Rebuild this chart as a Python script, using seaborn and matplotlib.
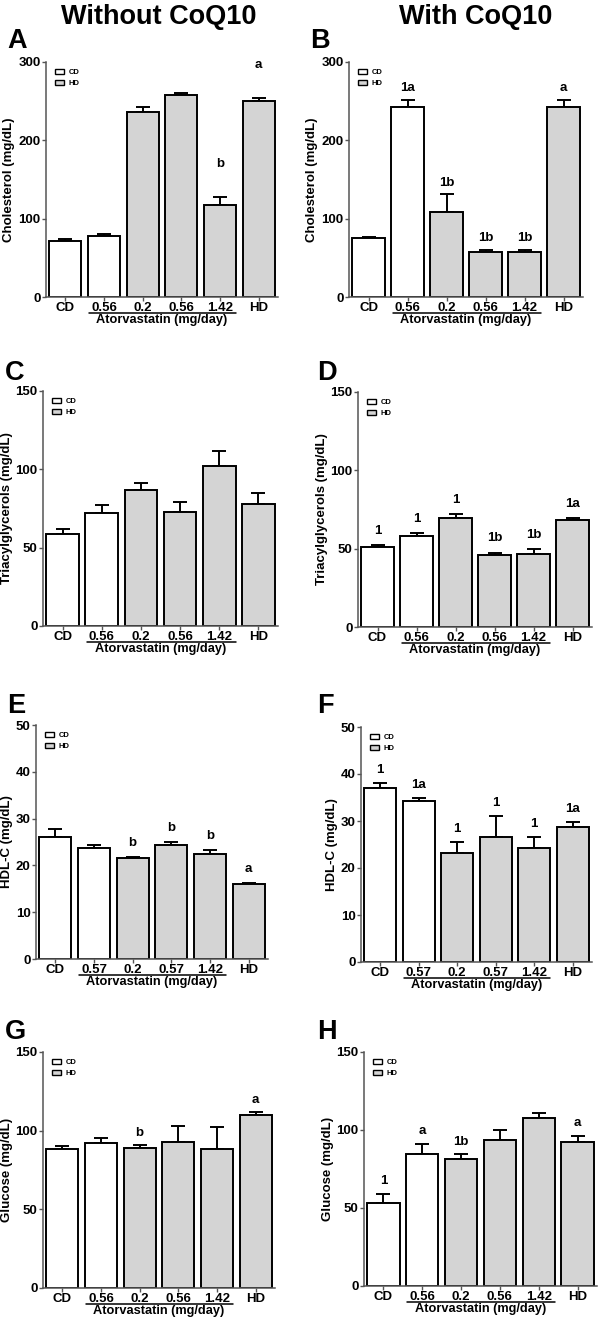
import numpy as np
import pandas as pd
import matplotlib
matplotlib.use("Agg")
import matplotlib.pyplot as plt
import matplotlib.transforms as mtransforms
from matplotlib.patches import Patch
import seaborn as sns

# x categories
groups_mg = ["CD", "0.56", "0.2", "0.56", "1.42", "HD"]
groups_hdl = ["CD", "0.57", "0.2", "0.57", "1.42", "HD"]
diet = ["CD", "CD", "HD", "HD", "HD", "HD"]

# Cholesterol
chol_wo = [72, 77.5, 236, 258, 118, 250]
chol_wo_err = [1.5, 3.5, 6, 3, 10, 4]
chol_wo_lbl = ["", "", "", "", "b", "a"]
chol_w = [75, 242, 109, 57, 57, 242]
chol_w_err = [1, 10, 22, 3.5, 3.5, 10]
chol_w_lbl = ["", "1a", "1b", "1b", "1b", "a"]

# Triacylglycerols
tag_wo = [59, 72, 86.5, 73, 102, 78]
tag_wo_err = [3, 5, 5, 6, 9.5, 7]
tag_wo_lbl = ["", "", "", "", "", ""]
tag_w = [51, 58, 69.5, 46, 46.5, 68.5]
tag_w_err = [1.5, 2, 2.5, 1.5, 3, 1.3]
tag_w_lbl = ["1", "1", "1", "1b", "1b", "1a"]

# HDL-C
hdl_wo = [26, 23.8, 21.5, 24.3, 22.4, 16.1]
hdl_wo_err = [1.7, 0.6, 0.3, 0.7, 0.9, 0.2]
hdl_wo_lbl = ["", "", "b", "b", "b", "a"]
hdl_w = [37, 34.2, 23.2, 26.7, 24.2, 28.7]
hdl_w_err = [1, 0.8, 2.4, 4.4, 2.5, 1.1]
hdl_w_lbl = ["1", "1a", "1", "1", "1", "1a"]

# Glucose
glu_wo = [88.5, 92, 88.7, 93, 88.3, 110]
glu_wo_err = [2, 3.5, 2.5, 10, 14, 2]
glu_wo_lbl = ["", "", "b", "", "", "a"]
glu_w = [53.5, 84.5, 81.5, 93.5, 107.5, 92.5]
glu_w_err = [5.3, 6.6, 2.8, 6.6, 3.7, 3.9]
glu_w_lbl = ["1", "a", "1b", "", "", "a"]

sns.set_style("ticks")
plt.rcParams["font.family"] = ["Liberation Sans", "DejaVu Sans"]
plt.rcParams["font.weight"] = "bold"
plt.rcParams["axes.labelweight"] = "bold"
plt.rcParams["text.color"] = "black"
plt.rcParams["axes.labelcolor"] = "black"
plt.rcParams["xtick.color"] = "black"
plt.rcParams["ytick.color"] = "black"

W, H = 600, 1320
fig = plt.figure(figsize=(6, 13.2), dpi=100)
palette = {"CD": "white", "HD": "#d4d4d4"}


def px_axes(x0, y0, x1, y1):
    return fig.add_axes([x0 / W, 1 - y1 / H, (x1 - x0) / W, (y1 - y0) / H])


def draw_panel(ax, vals, errs, lbls, xlabels, ylabel, ymax, yticks, pad):
    df = pd.DataFrame({"pos": range(6), "value": vals, "diet": diet})
    sns.barplot(data=df, x="pos", y="value", hue="diet", palette=palette,
                dodge=False, width=0.83, edgecolor="black", linewidth=1.4,
                legend=False, ax=ax)
    ax.errorbar(range(6), vals, yerr=[np.zeros(6), errs], fmt="none",
                ecolor="black", elinewidth=1.4, capsize=5, capthick=1.4, zorder=0.5)
    for i, t in enumerate(lbls):
        if t:
            ax.text(i, vals[i] + errs[i] + pad * ymax, t, ha="center", va="center",
                    fontsize=9.5, fontweight="bold", color="black")
    ax.set_xlim(-0.5, 5.5)
    ax.set_ylim(0, ymax)
    ax.set_yticks(yticks)
    ax.set_xticks(range(6))
    ax.set_xticklabels(xlabels)
    ax.set_xlabel("")
    ax.set_ylabel(ylabel, fontsize=9.5, fontweight="bold", labelpad=2)
    sns.despine(ax=ax)
    for s in ["left", "bottom"]:
        ax.spines[s].set_color("#555555")
        ax.spines[s].set_linewidth(1.1)
    ax.tick_params(axis="y", labelsize=9.5, length=3, width=1, color="#555555", pad=1)
    ax.tick_params(axis="x", labelsize=9.5, length=3, width=1, color="#555555", pad=0.5)
    for lab in ax.get_xticklabels() + ax.get_yticklabels():
        lab.set_fontweight("bold")
    trans = mtransforms.blended_transform_factory(ax.transData, ax.transAxes)
    ax.plot([1 - 0.38, 4 + 0.415], [-0.068, -0.068], transform=trans,
            color="black", lw=1.1, clip_on=False)
    ax.text(2.5, -0.072, "Atorvastatin (mg/day)", transform=trans, ha="center",
            va="top", fontsize=9.2, fontweight="bold")
    handles = [Patch(facecolor="white", edgecolor="black", lw=1, label="CD"),
               Patch(facecolor="#d4d4d4", edgecolor="black", lw=1, label="HD")]
    leg = ax.legend(handles=handles, loc="upper left", bbox_to_anchor=(0.025, 0.985),
                    borderaxespad=0, fontsize=5.5, handlelength=1.2, handleheight=0.7,
                    handletextpad=0.6, labelspacing=0.55, frameon=False)
    for t in leg.get_texts():
        t.set_fontweight("bold")


panels = [
    ((46, 62, 278, 297), chol_wo, chol_wo_err, chol_wo_lbl, groups_mg, "Cholesterol (mg/dL)", 300, [0, 100, 200, 300], 0.14),
    ((349, 62, 583, 297), chol_w, chol_w_err, chol_w_lbl, groups_mg, "Cholesterol (mg/dL)", 300, [0, 100, 200, 300], 0.05),
    ((43, 391, 278, 626), tag_wo, tag_wo_err, tag_wo_lbl, groups_mg, "Triacylglycerols (mg/dL)", 150, [0, 50, 100, 150], 0.06),
    ((358, 392, 592, 627), tag_w, tag_w_err, tag_w_lbl, groups_mg, "Triacylglycerols (mg/dL)", 150, [0, 50, 100, 150], 0.06),
    ((36, 725, 268, 959), hdl_wo, hdl_wo_err, hdl_wo_lbl, groups_hdl, "HDL-C (mg/dL)", 50, [0, 10, 20, 30, 40, 50], 0.058),
    ((361, 727, 592, 962), hdl_w, hdl_w_err, hdl_w_lbl, groups_hdl, "HDL-C (mg/dL)", 50, [0, 10, 20, 30, 40, 50], 0.055),
    ((43, 1052, 275, 1288), glu_wo, glu_wo_err, glu_wo_lbl, groups_mg, "Glucose (mg/dL)", 150, [0, 50, 100, 150], 0.05),
    ((364, 1052, 597, 1286), glu_w, glu_w_err, glu_w_lbl, groups_mg, "Glucose (mg/dL)", 150, [0, 50, 100, 150], 0.055),
]

for rect, vals, errs, lbls, xl, yl, ymax, yt, pad in panels:
    ax = px_axes(*rect)
    draw_panel(ax, vals, errs, lbls, xl, yl, ymax, yt, pad)

# column titles
fig.text(159 / W, 1 - 24 / H, "Without CoQ10", ha="center", va="baseline",
         fontsize=19.5, fontweight="bold")
fig.text(476 / W, 1 - 24 / H, "With CoQ10", ha="center", va="baseline",
         fontsize=19.5, fontweight="bold")

# panel letters
letters = ["A", "B", "C", "D", "E", "F", "G", "H"]
letter_xy = [(7, 48), (310, 48), (5, 380), (317, 380), (7, 713), (317, 713), (5, 1039), (317, 1039)]
for l, (x, y) in zip(letters, letter_xy):
    fig.text(x / W, 1 - y / H, l, ha="left", va="baseline", fontsize=19.5, fontweight="bold")

fig.savefig("out.png", dpi=100)
